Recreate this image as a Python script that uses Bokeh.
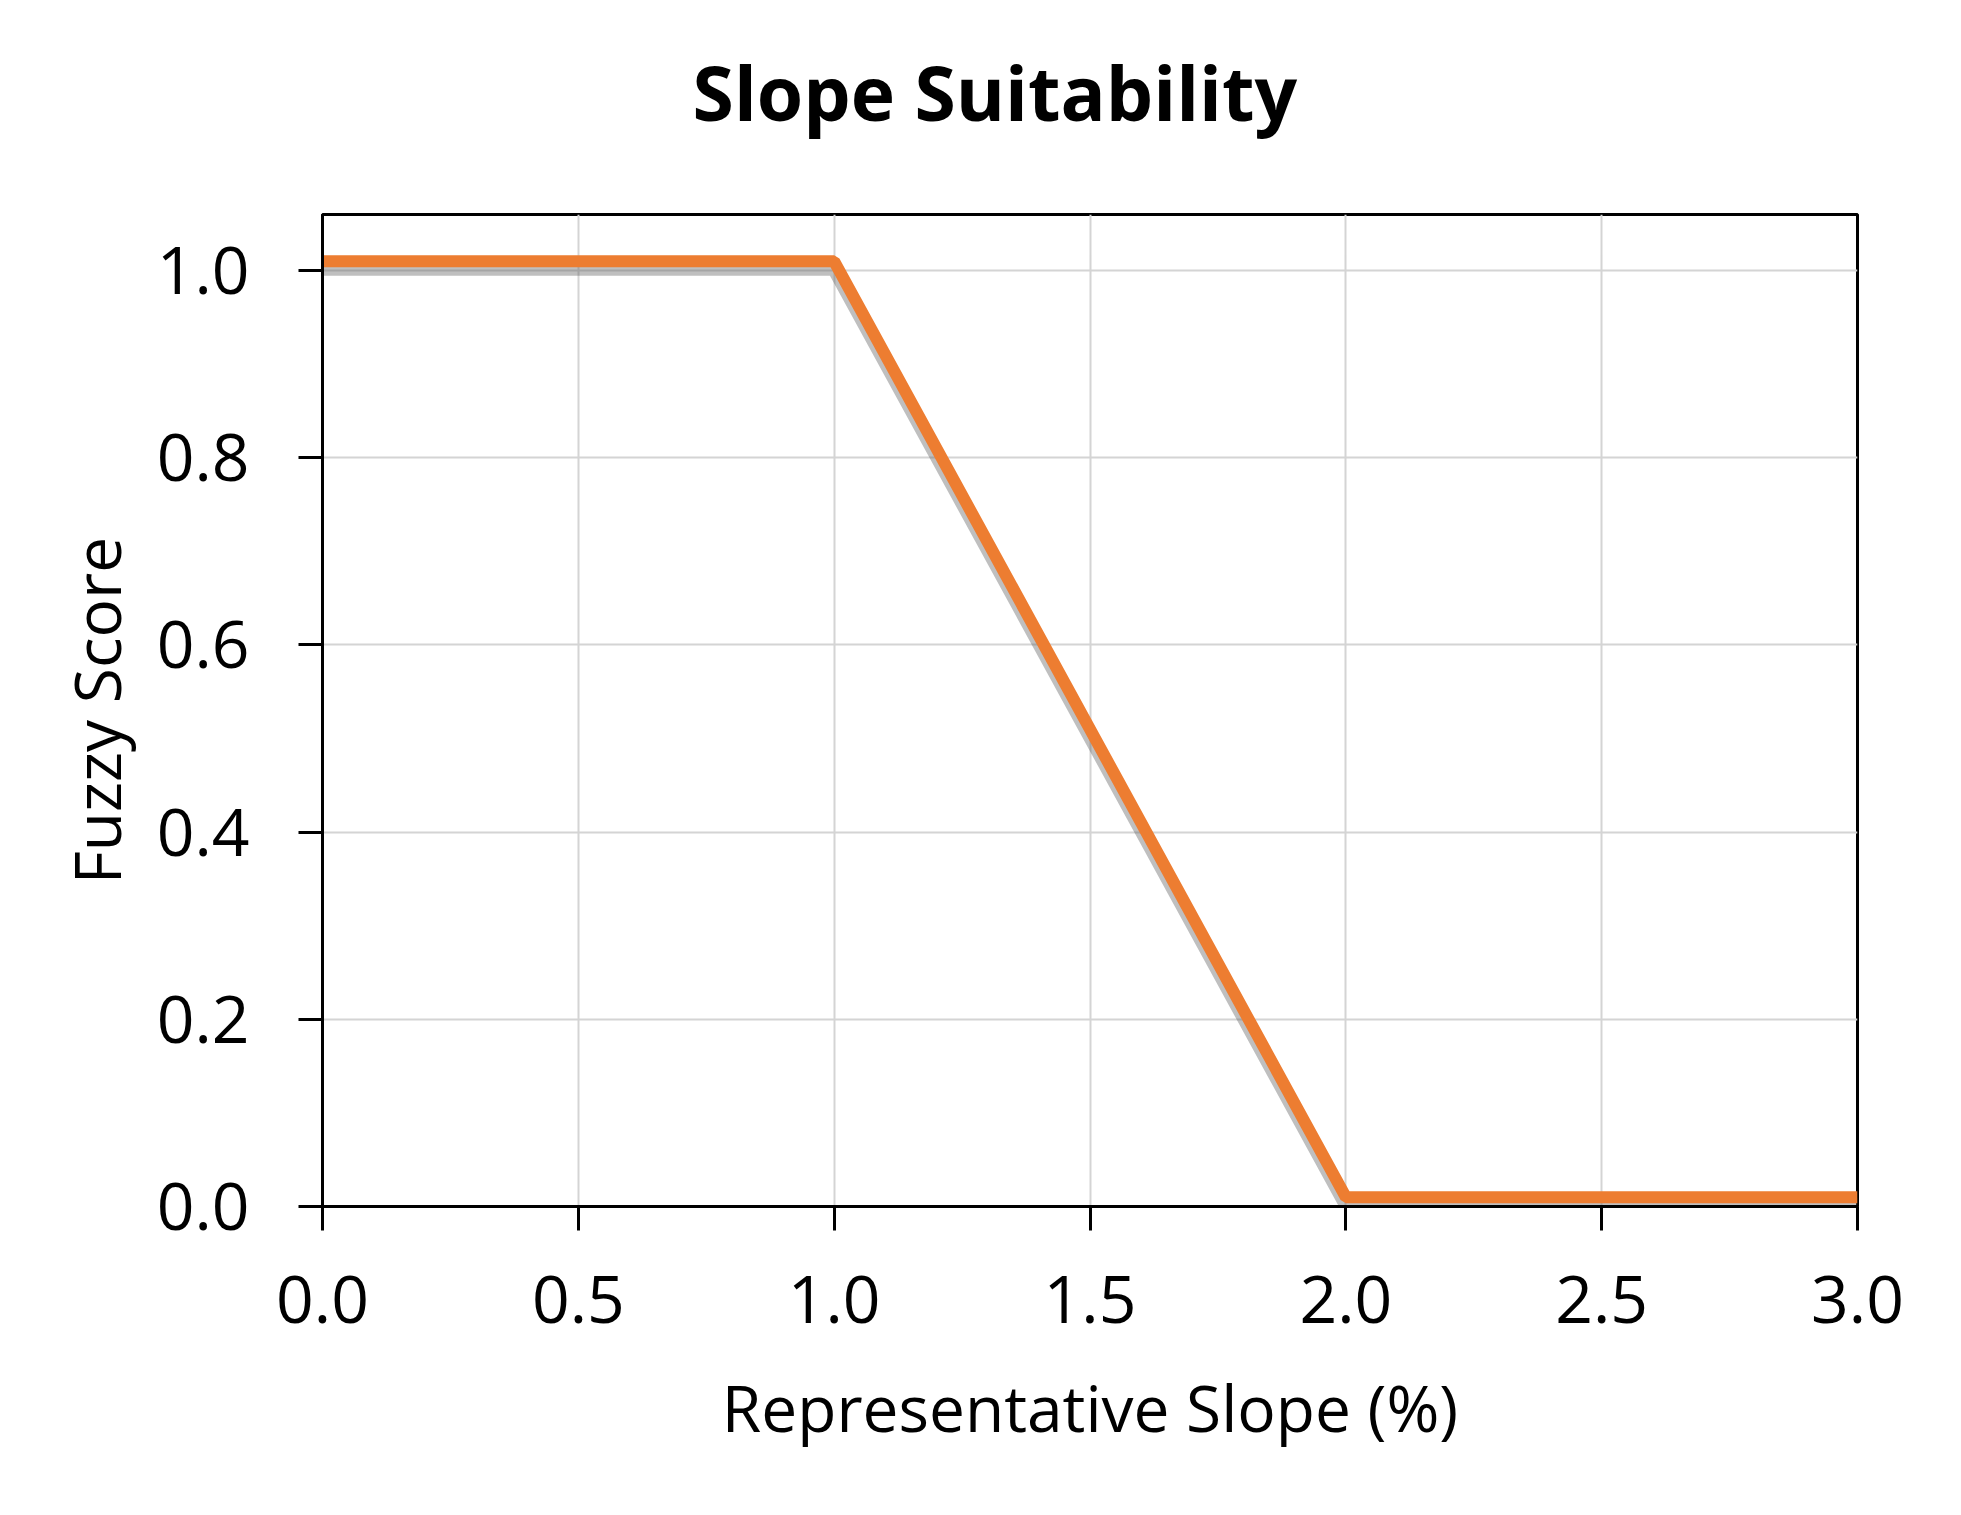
from bokeh.plotting import figure
from bokeh.models import Range1d, NumeralTickFormatter, FixedTicker
from bokeh.layouts import column
from bokeh.core.properties import value
from bokeh.embed import file_html
from bokeh.resources import INLINE

# Data
slope_pct = [0.0, 1.0, 2.0, 3.0]
fuzzy_score = [1.01, 1.01, 0.01, 0.01]
x_ticks = [0.0, 0.5, 1.0, 1.5, 2.0, 2.5, 3.0]
y_ticks = [0.0, 0.2, 0.4, 0.6, 0.8, 1.0]
title_text = "Slope Suitability"

FONT = "Open Sans"
W = 1945
TITLE_H = 204

# Title strip (pixel coordinates, no axes)
t = figure(width=W, height=TITLE_H, output_backend="svg", toolbar_location=None,
           x_range=Range1d(0, W), y_range=Range1d(0, TITLE_H),
           x_axis_type=None, y_axis_type=None,
           min_border=0, min_border_left=0, min_border_right=0,
           min_border_top=0, min_border_bottom=0, outline_line_color=None)
t.text(x=[852], y=[113], text=[title_text], text_font=value(FONT),
       text_font_size="75px", text_font_style="bold", text_color="black",
       text_align="center", text_baseline="alphabetic")

p = figure(width=W, height=1499 - TITLE_H, output_backend="svg", toolbar_location=None,
           title=None,
           x_range=Range1d(0, 3.0), y_range=Range1d(0, 1.06),
           min_border_left=322, min_border_right=88, min_border_top=10, min_border_bottom=293)

# shadow then line
shadow_y = [v - 0.008 for v in fuzzy_score]
p.line(slope_pct, shadow_y, line_color="#606060", line_alpha=0.4, line_width=14)
p.line(slope_pct, fuzzy_score, line_color="#ED7D31", line_width=12)

p.outline_line_color = "black"
p.outline_line_width = 3
p.outline_line_alpha = 1

for ax in (p.xaxis[0], p.yaxis[0]):
    ax.axis_line_color = "black"
    ax.axis_line_width = 3
    ax.major_tick_line_color = "black"
    ax.major_tick_line_width = 3
    ax.major_tick_out = 24
    ax.major_tick_in = 0
    ax.minor_tick_line_color = None
    ax.major_label_text_font = FONT
    ax.major_label_text_font_size = "66px"
    ax.major_label_text_color = "black"
    ax.axis_label_text_font = FONT
    ax.axis_label_text_font_size = "64px"
    ax.axis_label_text_font_style = "normal"
    ax.axis_label_text_color = "black"
    ax.formatter = NumeralTickFormatter(format="0.0")

p.xaxis[0].ticker = FixedTicker(ticks=x_ticks)
p.yaxis[0].ticker = FixedTicker(ticks=y_ticks)
p.xaxis[0].axis_label = "Representative Slope (%)"
p.yaxis[0].axis_label = "Fuzzy Score"
p.xaxis[0].major_label_standoff = 45
p.yaxis[0].major_label_standoff = 49
p.xaxis[0].axis_label_standoff = 38
p.yaxis[0].axis_label_standoff = 14

p.grid.grid_line_color = "#d4d4d4"
p.grid.grid_line_width = 2
p.background_fill_color = "white"
p.border_fill_color = "white"

layout = column(t, p, spacing=0)
open("out.html", "w").write(file_html(layout, INLINE))
